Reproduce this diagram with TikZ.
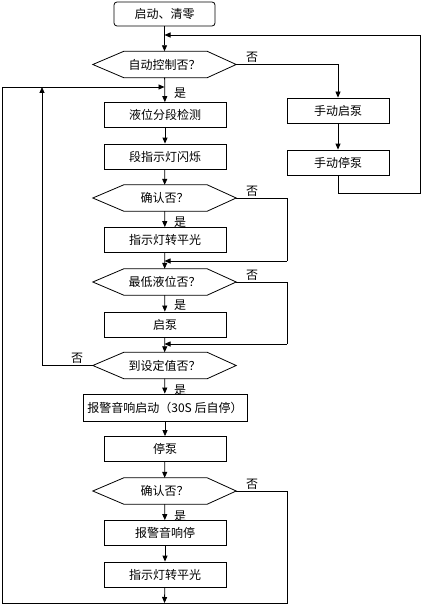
\documentclass[tikz,border=0pt]{standalone}
\usepackage{fontspec}
\setmainfont{Noto Sans CJK SC}
\usetikzlibrary{arrows.meta,calc}
\begin{document}
\begin{tikzpicture}[x=1pt,y=-1pt,
  every node/.style={font=\fontsize{12}{14}\selectfont, inner sep=0pt},
  proc/.style={draw, line width=0.8pt, minimum width=122pt, minimum height=25pt},
  startbox/.style={draw, line width=0.8pt, rounded corners=3pt, minimum width=101pt, minimum height=24pt},
  decis/.style={minimum width=143pt, minimum height=26pt},
  lbl/.style={font=\fontsize{12}{14}\selectfont},
  conn/.style={line width=0.8pt},
  arr/.style={line width=0.8pt, -{Triangle[length=6pt,width=5pt]}}
]
\useasboundingbox (0,0) rectangle (422,607);
\fill[white] (0,0) rectangle (422,607);

\node[startbox] (start) at (164.5,14) {启动、清零};
\node[decis] (d1) at (164.5,64.5) {自动控制否？};
\node[proc] (b1) at (165,115) {液位分段检测};
\node[proc] (b2) at (165,156.5) {段指示灯闪烁};
\node[decis] (d2) at (164.5,198) {确认否？};
\node[proc] (b3) at (165,240) {指示灯转平光};
\node[decis] (d3) at (164.5,282) {最低液位否？};
\node[proc] (b4) at (165,324.5) {启泵};
\node[decis] (d4) at (164.5,365.5) {到设定值否？};
\node[proc, minimum width=164pt, minimum height=27pt] (b5) at (165,407.5) {报警音响启动（30S 后自停）};
\node[proc] (b6) at (165,449) {停泵};
\node[decis] (d5) at (164.5,491) {确认否？};
\node[proc] (b7) at (165,533) {报警音响停};
\node[proc] (b8) at (165,574.5) {指示灯转平光};
\node[proc, minimum width=102pt] (m1) at (338,110.5) {手动启泵};
\node[proc, minimum width=102pt] (m2) at (338,162.5) {手动停泵};

\foreach \n in {d1,d2,d3,d4,d5}{
  \draw[line width=0.8pt] (\n.west) -- ($(\n.north west)+(31,0)$) -- ($(\n.north east)+(-29,0)$)
    -- (\n.east) -- ($(\n.south east)+(-29,0)$) -- ($(\n.south west)+(31,0)$) -- cycle;
}

% junction coordinates
\coordinate (jtop) at (164.5,35);
\coordinate (jleft) at (164.5,87);
\coordinate (j2) at (164.5,261);
\coordinate (j3) at (164.5,344);
\coordinate (jbot) at (164.5,603);
\coordinate (r1) at (338,64.5);
\coordinate (r2) at (338,193);
\coordinate (r3) at (420,193);
\coordinate (r4) at (420,35);
\coordinate (e2a) at (287,198);
\coordinate (e2b) at (287,261);
\coordinate (e3a) at (287,282);
\coordinate (e3b) at (287,344);
\coordinate (e5a) at (287,491);
\coordinate (e5b) at (287,603);
\coordinate (l1) at (2,603);
\coordinate (l2) at (2,87);
\coordinate (k1) at (42,365.5);
\coordinate (k2) at (42,87);

% main flow
\draw[arr] (start) -- (d1);
\draw[arr] (d1) -- (b1);
\draw[arr] (b1) -- (b2);
\draw[arr] (b2) -- (d2);
\draw[arr] (d2) -- (b3);
\draw[arr] (b3) -- (d3);
\draw[arr] (d3) -- (b4);
\draw[arr] (b4) -- (d4);
\draw[arr] (d4) -- (b5);
\draw[arr] (b5) -- (b6);
\draw[arr] (b6) -- (d5);
\draw[arr] (d5) -- (b7);
\draw[arr] (b7) -- (b8);
\draw[arr] (b8) -- (jbot);

% manual branch
\draw[arr] (d1.east) -- (r1) -- (m1);
\draw[arr] (m1) -- (m2);
\draw[conn] (m2) -- (r2) -- (r3) -- (r4);
\draw[arr] (r4) -- (jtop);

% confirm branches
\draw[conn] (d2.east) -- (e2a) -- (e2b);
\draw[arr] (e2b) -- (j2);
\draw[conn] (d3.east) -- (e3a) -- (e3b);
\draw[arr] (e3b) -- (j3);
\draw[conn] (d5.east) -- (e5a) -- (e5b) -- (l1) -- (l2);
\draw[arr] (l2) -- (jleft);
\draw[conn] (d4.west) -- (k1);
\draw[arr] (k1) -- (k2);

% labels
\node[lbl] at (252,57) {否};
\node[lbl] at (180,93) {是};
\node[lbl] at (252,191) {否};
\node[lbl] at (180,222) {是};
\node[lbl] at (252,275) {否};
\node[lbl] at (180,305) {是};
\node[lbl] at (77,358) {否};
\node[lbl] at (180,390) {是};
\node[lbl] at (252,484) {否};
\node[lbl] at (180,516) {是};
\end{tikzpicture}
\end{document}
